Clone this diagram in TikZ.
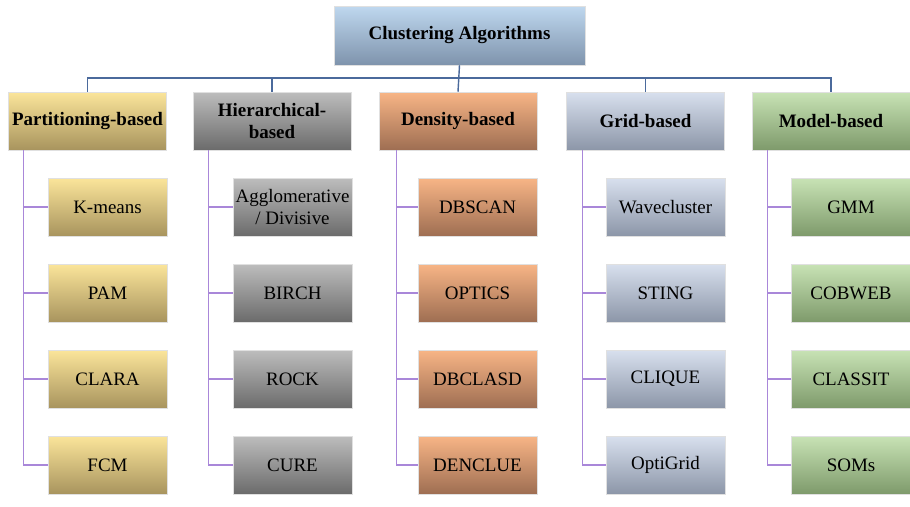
\documentclass[tikz,border=0pt]{standalone}
\usepackage{fontspec}
\setmainfont{Liberation Serif}
\newfontfamily\boxfont{Liberation Serif}
\usepackage{tikz}
\usetikzlibrary{positioning,calc}

\definecolor{rootT}{HTML}{BFD8EF}
\definecolor{rootB}{HTML}{7E93AC}
\definecolor{partT}{HTML}{FBE59A}
\definecolor{partB}{HTML}{A8945E}
\definecolor{hierT}{HTML}{BDBDBD}
\definecolor{hierB}{HTML}{6B6B6B}
\definecolor{densT}{HTML}{F8B586}
\definecolor{densB}{HTML}{9E6E52}
\definecolor{gridT}{HTML}{D8E0EE}
\definecolor{gridB}{HTML}{8C96A8}
\definecolor{modT}{HTML}{C8E3B5}
\definecolor{modB}{HTML}{7E9A6B}
\definecolor{busline}{HTML}{4B6A9C}
\definecolor{leafline}{HTML}{A987D9}

\tikzset{
  box/.style={minimum height=1.16cm, inner sep=1pt, align=center,
    draw=white!88!black, line width=0.3pt, font=\boxfont\fontsize{10.8}{12.5}\selectfont},
  catbox/.style={box, minimum width=3.16cm, font=\boxfont\bfseries\fontsize{10.8}{12.5}\selectfont},
  leafbox/.style={box, minimum width=2.38cm},
  part/.style={top color=partT, bottom color=partB},
  hier/.style={top color=hierT, bottom color=hierB},
  dens/.style={top color=densT, bottom color=densB},
  grid/.style={top color=gridT, bottom color=gridB},
  model/.style={top color=modT, bottom color=modB},
  busline/.style={draw=busline, line width=0.8pt},
  leafline/.style={draw=leafline, line width=0.8pt}
}

\begin{document}
\begin{tikzpicture}[x=0.02cm,y=-0.02cm]
\useasboundingbox (0,0) rectangle (910,507);
% top
\node[catbox, minimum width=5.02cm, minimum height=1.18cm, top color=rootT, bottom color=rootB] (root) at (459.5,35.5) {Clustering Algorithms};
\coordinate (bus) at (0,78);
% categories
\node[catbox, part] (pb) at (87.5,121) {Partitioning-based};
\node[catbox, hier] (hb) at (272,121) {Hierarchical-\\based};
\node[catbox, dens] (db) at (458,121) {Density-based};
\node[catbox, grid] (gb) at (645.5,121) {Grid-based};
\node[catbox, model] (mb) at (831,121) {Model-based};
\draw[busline] (root.south) -- (db.north);
\draw[busline] (pb.north) -- (pb.north |- bus) -- (mb.north |- bus) -- (mb.north);
\draw[busline] (hb.north) -- (hb.north |- bus);
\draw[busline] (gb.north) -- (gb.north |- bus);
% partitioning
\node[leafbox, part] (p1) at (107.5,207) {K-means};
\node[leafbox, part] (p2) at (107.5,293) {PAM};
\node[leafbox, part] (p3) at (107.5,379) {CLARA};
\node[leafbox, part] (p4) at (107.5,465) {FCM};
% hierarchical
\node[leafbox, hier] (h1) at (292.5,207) {Agglomerative\\/ Divisive};
\node[leafbox, hier] (h2) at (292.5,293) {BIRCH};
\node[leafbox, hier] (h3) at (292.5,379) {ROCK};
\node[leafbox, hier] (h4) at (292.5,465) {CURE};
% density
\node[leafbox, dens] (d1) at (477.5,207) {DBSCAN};
\node[leafbox, dens] (d2) at (477.5,293) {OPTICS};
\node[leafbox, dens] (d3) at (477.5,379) {DBCLASD};
\node[leafbox, dens] (d4) at (477.5,465) {DENCLUE};
% grid
\node[leafbox, grid] (g1) at (665.5,207) {Wavecluster};
\node[leafbox, grid] (g2) at (665.5,293) {STING};
\node[leafbox, grid] (g3) at (665.5,379) {CLIQUE};
\node[leafbox, grid] (g4) at (665.5,465) {OptiGrid};
% model
\node[leafbox, model] (m1) at (851,207) {GMM};
\node[leafbox, model] (m2) at (851,293) {COBWEB};
\node[leafbox, model] (m3) at (851,379) {CLASSIT};
\node[leafbox, model] (m4) at (851,465) {SOMs};
% trunks
\coordinate (pt) at ([xshift=0.3cm]pb.south west);
\coordinate (ht) at ([xshift=0.32cm]hb.south west);
\coordinate (dt) at ([xshift=0.36cm]db.south west);
\coordinate (gt) at ([xshift=0.32cm]gb.south west);
\coordinate (mt) at ([xshift=0.32cm]mb.south west);
\foreach \c/\t in {p/pt,h/ht,d/dt,g/gt,m/mt}{
  \draw[leafline] (\t) |- (\c4.west);
  \foreach \k in {1,2,3}
    \draw[leafline] (\c\k.west) -- (\c\k.west -| \t);
}
\end{tikzpicture}
\end{document}
